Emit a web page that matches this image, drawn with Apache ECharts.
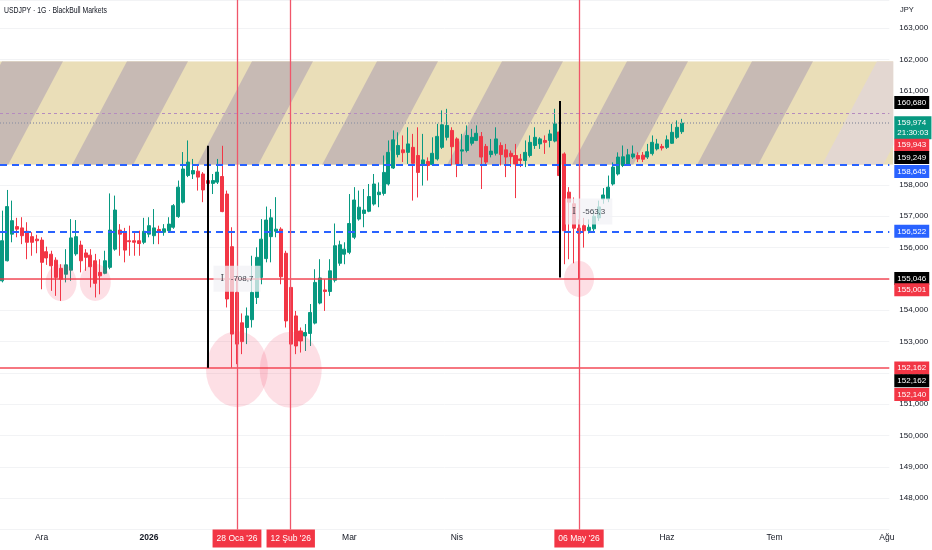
<!DOCTYPE html>
<html><head><meta charset="utf-8">
<script src="https://cdn.jsdelivr.net/npm/echarts@6/dist/echarts.min.js"></script>
<style>html,body{margin:0;padding:0;background:#fff}#c{width:932px;height:550px}</style>
</head><body><div id="c"></div><script>
const chartTitle = 'USDJPY · 1G · BlackBull Markets';
const currencyLabel = 'JPY';
const startDay = '2025-11-19', endDay = '2026-08-03';
const closedDays = ['2025-12-25', '2026-01-01'];
const monthLabels = {'2025-12-01':'Ara','2026-01-02':'2026','2026-03-02':'Mar','2026-04-01':'Nis','2026-06-01':'Haz','2026-07-01':'Tem','2026-08-03':'Ağu'};

const opens = [154.94,155.58,156.43,156.67,156.63,156.52,156.35,156.27,156.24,155.87,155.79,155.60,155.34,155.15,155.28,155.80,156.08,155.83,155.76,155.58,155.21,155.18,155.37,155.95,156.56,156.49,156.22,156.22,156.22,156.17,
156.43,156.38,156.58,156.49,156.54,156.65,156.99,157.45,158.30,158.35,158.44,158.35,158.14,158.05,158.09,158.27,157.71,156.03,154.57,153.60,153.45,153.70,154.41,155.05,155.65,156.35,156.52,156.59,155.82,154.73,
153.82,153.34,153.18,153.26,153.59,154.23,154.65,154.60,154.96,155.50,155.79,155.85,156.33,156.91,157.09,157.16,157.39,157.69,157.73,158.03,158.54,158.97,159.12,159.04,159.20,158.94,158.67,158.75,158.65,158.83,
159.20,159.52,159.74,159.47,159.08,159.10,159.33,159.42,159.55,159.23,158.97,159.01,159.26,159.12,159.01,158.94,158.83,158.78,158.94,159.26,159.31,159.42,159.42,159.40,159.69,158.99,157.77,157.40,156.62,156.70,
156.55,156.60,156.95,157.55,157.55,158.03,158.35,158.62,158.67,158.89,158.94,158.95,158.89,159.00,159.15,159.23,159.20,159.33,159.52,159.70];
const closes = [156.22,157.31,156.86,156.59,156.38,156.17,156.17,156.22,155.53,155.67,155.42,155.05,154.99,155.45,156.31,156.35,155.58,155.69,155.39,154.86,155.10,155.58,156.56,157.20,156.43,155.92,156.19,156.17,156.13,156.52,
156.70,156.63,156.49,156.60,156.75,157.34,157.93,158.51,158.73,158.46,158.25,157.84,158.05,158.14,158.41,157.15,154.36,153.24,152.92,153.00,153.82,154.57,155.69,156.27,156.88,156.95,156.59,155.07,153.66,152.92,
152.86,153.02,153.29,153.93,154.89,155.03,154.60,155.26,156.06,156.09,155.95,156.77,157.52,157.29,157.20,157.63,158.03,157.77,158.40,159.04,159.44,159.26,159.03,159.31,158.69,158.40,158.80,158.62,159.01,159.55,
159.92,159.90,159.22,158.67,159.12,159.58,159.52,159.65,158.89,158.73,159.08,159.47,158.97,158.89,158.91,158.67,158.78,159.04,159.36,159.52,159.47,159.36,159.63,159.95,158.30,156.54,157.45,156.62,156.45,156.54,
156.65,157.00,157.30,157.68,157.93,158.57,158.89,158.90,158.96,158.99,158.83,158.82,159.06,159.36,159.31,159.18,159.44,159.68,159.84,159.974];
const lows = [154.89,155.56,156.17,156.33,156.11,155.63,155.74,155.82,154.67,155.45,154.62,154.46,154.30,154.89,154.94,155.74,155.21,155.26,154.73,154.41,154.51,155.15,155.31,155.90,155.74,155.53,155.74,155.74,155.74,156.11,
156.33,156.11,156.11,156.38,156.49,156.60,156.95,157.41,158.25,158.19,157.82,157.45,157.71,157.71,158.03,157.13,154.09,152.17,152.28,152.60,152.92,153.45,154.20,154.83,155.53,155.53,156.33,154.83,153.45,152.60,
152.60,152.65,152.70,152.86,153.55,154.19,153.98,154.46,154.89,155.42,155.47,155.79,156.27,156.86,156.65,157.13,157.34,157.29,157.66,157.98,158.51,158.88,158.73,158.67,157.50,157.60,157.98,158.14,158.62,158.78,
159.15,159.42,158.62,158.25,158.62,159.04,159.26,159.40,157.87,158.62,158.88,158.94,158.62,158.25,158.57,157.58,158.57,158.57,158.88,159.15,159.15,158.99,159.20,159.36,158.25,155.47,155.63,155.50,155.00,156.00,
156.45,156.50,156.85,157.40,157.45,157.98,158.30,158.57,158.62,158.83,158.73,158.73,158.83,158.94,159.10,159.10,159.15,159.31,159.47,159.63];
const highs = [157.18,157.84,157.50,156.95,156.97,156.81,156.49,156.41,156.33,156.03,155.90,155.69,155.47,155.95,156.91,156.88,156.22,155.95,155.95,155.80,155.63,155.90,157.73,157.66,156.75,156.63,156.70,156.49,156.54,156.95,
156.97,157.23,156.70,156.75,156.97,157.39,158.14,159.05,159.42,158.83,158.62,158.41,158.57,158.35,158.83,159.25,157.82,156.65,155.10,153.90,154.09,155.74,156.01,156.91,157.31,157.23,157.61,156.65,155.90,155.15,
153.98,153.45,153.56,154.20,155.31,155.63,154.99,155.63,156.77,156.22,156.17,157.71,157.93,157.82,157.87,158.03,158.35,158.08,158.94,159.42,159.74,159.68,159.58,159.84,159.63,159.84,159.63,158.88,159.52,159.95,
160.38,160.43,159.84,159.52,159.63,159.90,159.79,159.90,159.69,159.31,159.47,159.84,159.36,159.31,159.10,159.31,158.99,159.42,159.58,159.84,159.52,159.58,159.76,160.43,160.68,159.04,157.93,157.60,156.90,156.95,
156.90,157.20,157.50,157.90,158.30,158.72,159.04,159.26,159.15,159.26,159.04,159.05,159.31,159.58,159.47,159.31,159.58,159.95,160.06,160.11];

const zoneTop = 161.95, zoneBottom = 158.645;
const redLevels = [155.001, 152.162];
const blueLevels = [158.645, 156.522];
const lastPrice = 159.974, upperDotted = 160.29;
const markedDates = ['2026-01-28', '2026-02-12', '2026-05-06'];
const markedDateLabels = ["28 Oca '26", "12 Şub '26", "06 May '26"];
const measureDates = ['2026-01-20', '2026-04-30'];
const measureTops = [159.249, 160.680];
const measureBottoms = [152.162, 155.046];
const measureLabelDates = ['2026-01-28', '2026-05-08'];
const measureLabelPrices = [155.01, 157.15];
const measureTexts = ['-708,7', '-563,3'];
const circleDates = ['2025-12-05', '2025-12-16', '2026-01-28', '2026-02-12', '2026-05-06'];
const circlePrices = [154.88, 154.89, 152.12, 152.10, 155.00];
const tagValues = [160.680, 159.974, 159.943, 159.249, 158.645, 156.522, 155.046, 155.001, 152.162, 152.162, 152.140];
const tagTexts = ['160,680', '159,974', '159,943', '159,249', '158,645', '156,522', '155,046', '155,001', '152,162', '152,162', '152,140'];
const countdown = '21:30:03';
const yMin = 147, yMax = 163.903;

// ---- build categories (trading days) ----
const categories = [];
(function(){
  let d = new Date(startDay + 'T00:00:00Z'); const e = new Date(endDay + 'T00:00:00Z');
  while (d <= e) {
    const wd = d.getUTCDay(); const s = d.toISOString().slice(0,10);
    if (wd !== 0 && wd !== 6 && closedDays.indexOf(s) < 0) categories.push(s);
    d = new Date(d.getTime() + 86400000);
  }
})();
const candleData = opens.map((o,i)=>[o, closes[i], lows[i], highs[i]]);

const FONT = "'Liberation Sans',Arial,sans-serif";
const UP = '#089981', DOWN = '#f23645', BLUE = '#2962ff', BLACK = '#000000';
const tagColors = [BLACK, UP, DOWN, BLACK, BLUE, BLUE, BLACK, DOWN, DOWN, BLACK, DOWN];
const tagShift = [1.5, 4.5, 21, 11.7, 7, 0, 1, 10.7, 0, 12.7, 26];
const circleSizes = [[31,37],[31,37],[62,76],[62,76],[30,36]];

const chart = echarts.init(document.getElementById('c'), null, {renderer:'canvas'});

const markData = [];
redLevels.forEach(v => markData.push({yAxis:v, lineStyle:{color:'#f23645', width:1.6, type:'solid', opacity:0.9}, label:{show:false}}));
blueLevels.forEach(v => markData.push({yAxis:v, lineStyle:{color:BLUE, width:2, type:[7,5]}, label:{show:false}}));
markData.push({yAxis:upperDotted, lineStyle:{color:'#b58bbf', width:1, type:[3,3]}, label:{show:false}});
markData.push({yAxis:lastPrice, lineStyle:{color:'#9a9aa6', width:1.6, type:[1,2]}, label:{show:false}});
markedDates.forEach((d,i) => markData.push({xAxis:d, lineStyle:{color:'#f0566a', width:1.3, type:'solid', opacity:1},
  label:{show:true, position:'start', distance:0, formatter:markedDateLabels[i], color:'#fff', backgroundColor:'#f23645',
    padding:[5,4,4,4], fontSize:8.5, fontFamily:FONT, opacity:1}}));
measureDates.forEach((d,i) => markData.push([
  {coord:[d, measureTops[i]], lineStyle:{color:BLACK, width:2, type:'solid'}, label:{show:false}},
  {coord:[d, measureBottoms[i]]}]));
tagValues.forEach((v,i) => {
  const txt = i === 1 ? tagTexts[i] + '\n' + countdown : tagTexts[i];
  markData.push({yAxis:v, lineStyle:{color:'rgba(0,0,0,0)', width:1, type:'solid'},
    label:{show:true, position:'end', distance:5, formatter:txt, color:'#fff', backgroundColor:tagColors[i],
      padding: i === 1 ? [1,3,1,3] : [2,3,1,3], lineHeight: i === 1 ? 10.5 : 10, fontSize:8, fontFamily:FONT, offset:[0, tagShift[i]]}});
});

const option = {
  animation:false,
  backgroundColor:'#ffffff',
  grid:{left:0, top:0, width:889.3, height:529.6, containLabel:false},
  xAxis:{type:'category', data:categories, boundaryGap:true,
    axisLine:{show:false}, axisTick:{show:false}, splitLine:{show:false},
    axisLabel:{interval:(idx,val)=>monthLabels[val]!==undefined, margin:4, hideOverlap:false,
      formatter:(val)=> monthLabels[val]==='2026' ? '{b|2026}' : (monthLabels[val]||''),
      color:'#131722', fontSize:8.5, fontFamily:FONT, rich:{b:{fontWeight:'bold', fontSize:8.5, fontFamily:FONT, color:'#131722'}}}},
  yAxis:{type:'value', position:'right', min:yMin, max:yMax, interval:1,
    axisLine:{show:false}, axisTick:{show:false},
    splitLine:{show:true, lineStyle:{color:'#f2f3f5', width:1}},
    axisLabel:{margin:10, color:'#131722', fontSize:8, fontFamily:FONT, showMaxLabel:false,
      formatter:(v)=> (v<=yMin+0.01||v>163.5) ? '' : v.toFixed(3).replace('.', ',')}},
  graphic:[
    {type:'text', left:4, top:6, scaleX:0.78, style:{text:chartTitle, fill:'#131722', fontSize:8.8, fontFamily:FONT}},
    {type:'text', left:900, top:6, style:{text:currencyLabel, fill:'#131722', fontSize:7.5, fontFamily:FONT}}
  ],
  series:[
    {type:'custom', name:'zone', z:1, silent:true, clip:false,
      data:[[0, categories.length-1, zoneTop, zoneBottom]],
      renderItem:(params, api)=>{
        const p1 = api.coord([api.value(0), api.value(2)]);
        const p2 = api.coord([api.value(1), api.value(3)]);
        const bw = api.size([1,0])[0];
        const x0 = params.coordSys.x, x1 = p2[0] + bw/2 + 4;
        const y0 = p1[1], y1 = p2[1], H = y1 - y0;
        const P = 125, W = 61, s = 0.53;
        const kids = [{type:'rect', shape:{x:x0, y:y0, width:x1-x0, height:H}, style:{fill:'#eadeb8'}}];
        for (let st = 2 - P; st < x1 + P; st += P) {
          kids.push({type:'polygon', shape:{points:[[st,y0],[st+W,y0],[st+W-s*H,y1],[st-s*H,y1]]},
            style:{fill: st > 850 ? '#e3d7d1' : '#c7bab4'}});
        }
        return {type:'group', children:kids, clipPath:{type:'rect', shape:{x:x0, y:y0, width:x1-x0, height:H}}};
      }},
    {type:'candlestick', name:'USDJPY', z:3, data:candleData, barWidth:'72%', silent:true,
      itemStyle:{color:UP, color0:DOWN, borderColor:UP, borderColor0:DOWN, borderWidth:1}},
    {type:'scatter', name:'circles', z:4, silent:true,
      data:circleDates.map((d,i)=>({value:[d, circlePrices[i]], symbolSize:circleSizes[i]})),
      symbol:'circle', itemStyle:{color:'rgba(242,54,95,0.2)'}},
    {type:'line', name:'levels', z:5, data:[], silent:true,
      markLine:{silent:true, symbol:['none','none'], animation:false, data:markData}},
    {type:'scatter', name:'measure', z:6, silent:true, symbol:'rect',
      data:measureLabelDates.map((d,i)=>({value:[d, measureLabelPrices[i]], name:measureTexts[i]})),
      symbolSize:[47,26], itemStyle:{color:'rgba(241,242,245,0.93)'},
      label:{show:true, position:'inside', formatter:(p)=>'{i|I}   ' + p.name, color:'#131722', fontSize:8, fontFamily:FONT,
        rich:{i:{fontFamily:"'DejaVu Serif','Liberation Serif',serif", fontSize:9, color:'#131722'}}}}
  ]
};
chart.setOption(option);
</script></body></html>
